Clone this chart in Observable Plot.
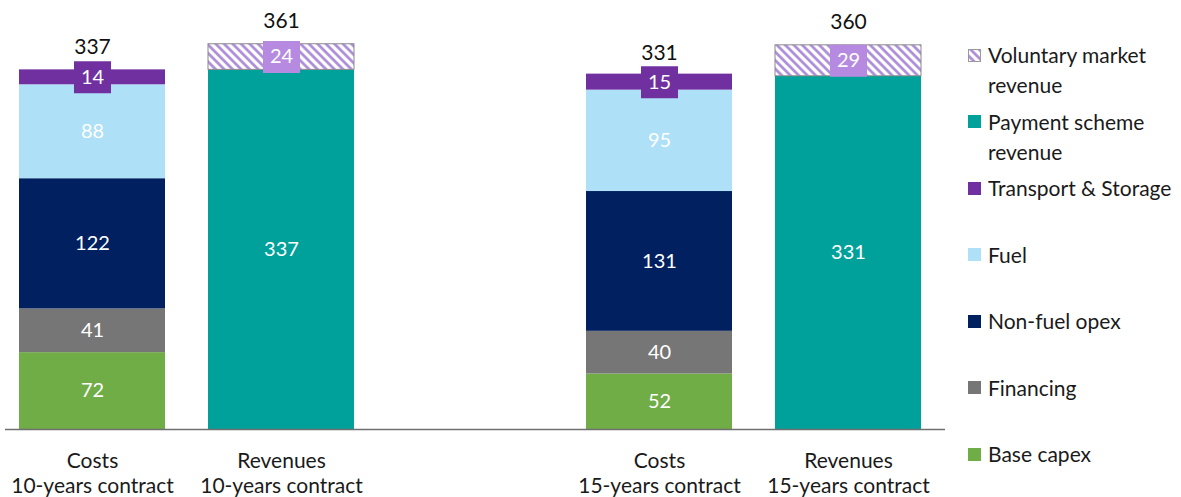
<!DOCTYPE html>
<html>
<head>
<meta charset="utf-8">
<script src="https://cdn.jsdelivr.net/npm/d3@7"></script>
<script src="https://cdn.jsdelivr.net/npm/@observablehq/plot@0.6"></script>
<style>
  body { margin: 0; background: #fff; font-family: Lato, "Open Sans", sans-serif; }
  #wrap { position: relative; width: 1181px; height: 497px; overflow: hidden; }
  #legend { position: absolute; left: 968px; top: 40px; }
  .item { height: 66.5px; display: flex; align-items: flex-start; }
  .sw { width: 13px; height: 13px; margin-top: 8.5px; margin-right: 7px; flex: none; box-sizing: border-box; }
  .lab { font-size: 21px; line-height: 30px; color: #1a1a1a; white-space: nowrap; }
</style>
</head>
<body>
<svg width="0" height="0" style="position:absolute">
  <defs>
    <pattern id="hatch" patternUnits="userSpaceOnUse" width="6" height="6" patternTransform="rotate(-45)">
      <rect width="6" height="6" fill="#ffffff"></rect>
      <line x1="1.5" y1="0" x2="1.5" y2="6" stroke="#a886d6" stroke-width="2.6"></line>
    </pattern>
  </defs>
</svg>
<div id="wrap">
  <div id="chart"></div>
  <div id="legend"></div>
</div>
<script>
// ---- data ----
const bars = ["Costs\n10-years contract", "Revenues\n10-years contract", "Costs\n15-years contract", "Revenues\n15-years contract"];
const xDomain = [bars[0], bars[1], "gap", bars[2], bars[3]];

const seriesNames = ["Base capex", "Financing", "Non-fuel opex", "Fuel", "Transport & Storage", "Payment scheme revenue", "Voluntary market revenue"];
const seriesColors = ["#70ad47", "#767676", "#002060", "#aee0f7", "#7030a0", "#00a19a", "url(#hatch)"];

const baseCapex        = [72, null, 52, null];
const financing        = [41, null, 40, null];
const nonFuelOpex      = [122, null, 131, null];
const fuel             = [88, null, 95, null];
const transportStorage = [14, null, 15, null];
const paymentScheme    = [null, 337, null, 331];
const voluntaryMarket  = [null, 24, null, 29];
const totals           = [337, 361, 331, 360];

const legendOrder = ["Voluntary market revenue", "Payment scheme revenue", "Transport & Storage", "Fuel", "Non-fuel opex", "Financing", "Base capex"];
const legendLabels = ["Voluntary market<br>revenue", "Payment scheme<br>revenue", "Transport & Storage", "Fuel", "Non-fuel opex", "Financing", "Base capex"];

// ---- table ----
const seriesValues = [baseCapex, financing, nonFuelOpex, fuel, transportStorage, paymentScheme, voluntaryMarket];
const rows = [];
bars.forEach((b, i) => {
  let acc = 0;
  seriesNames.forEach((s, j) => {
    const v = seriesValues[j][i];
    if (v == null) return;
    rows.push({bar: b, series: s, value: v, y1: acc, y2: acc + v, mid: acc + v / 2});
    acc += v;
  });
});
const boxed = new Set(["Transport & Storage", "Voluntary market revenue"]);
const totalRows = bars.map((b, i) => ({bar: b, total: totals[i]}));

const boxSymbol = {draw(ctx) { ctx.rect(-18.5, -16, 37, 32); }};

const chart = Plot.plot({
  width: 1181,
  height: 497,
  marginLeft: 5,
  marginRight: 236,
  marginTop: 0,
  marginBottom: 68,
  style: {fontFamily: "Lato, 'Open Sans', sans-serif", background: "#fff"},
  x: {domain: xDomain, range: [18, 921], paddingInner: 0.228, paddingOuter: 0, axis: null},
  y: {domain: [0, 402], axis: null},
  color: {domain: seriesNames, range: seriesColors},
  marks: [
    Plot.barY(rows, {x: "bar", y1: "y1", y2: "y2", fill: "series"}),
    Plot.barY(rows.filter(d => d.series === "Voluntary market revenue"), {x: "bar", y1: "y1", y2: "y2", fill: "none", stroke: "#8a8a8a", strokeWidth: 1}),
    Plot.ruleY([0], {stroke: "#6f6f6f", strokeWidth: 1.5}),
    Plot.text(rows.filter(d => !boxed.has(d.series)), {x: "bar", y: "mid", text: "value", fill: "white", fontSize: 20}),
    Plot.dot(rows.filter(d => d.series === "Transport & Storage"), {x: "bar", y: "mid", symbol: boxSymbol, fill: "#7030a0", stroke: "none"}),
    Plot.dot(rows.filter(d => d.series === "Voluntary market revenue"), {x: "bar", y: "mid", symbol: boxSymbol, fill: "#b68ae0", stroke: "none"}),
    Plot.text(rows.filter(d => boxed.has(d.series)), {x: "bar", y: "mid", text: "value", fill: "white", fontSize: 20}),
    Plot.text(totalRows, {x: "bar", y: "total", text: "total", dy: -23, fill: "#111", fontSize: 21}),
    Plot.axisX({ticks: bars, tickSize: 0, tickPadding: 20, fontSize: 21, lineHeight: 1.22, fill: "#1a1a1a", label: null})
  ]
});
document.getElementById("chart").appendChild(chart);

// ---- legend ----
const lg = d3.select("#legend");
legendOrder.forEach((s, i) => {
  const it = lg.append("div").attr("class", "item");
  const c = seriesColors[seriesNames.indexOf(s)];
  const sw = it.append("div").attr("class", "sw");
  if (c.startsWith("url")) {
    sw.append("svg").attr("width", 13).attr("height", 13).style("display", "block")
      .append("rect").attr("x", 0.5).attr("y", 0.5).attr("width", 12).attr("height", 12)
      .attr("fill", c).attr("stroke", "#9a9a9a").attr("stroke-width", 1);
  } else {
    sw.style("background", c);
  }
  it.append("div").attr("class", "lab").html(legendLabels[i]);
});
</script>
</body>
</html>
